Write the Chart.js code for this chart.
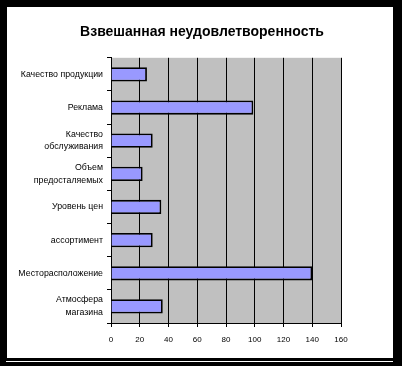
<!DOCTYPE html>
<html>
<head>
<meta charset="utf-8">
<script src="https://cdn.jsdelivr.net/npm/chart.js@4/dist/chart.umd.min.js"></script>
<style>
  html, body { margin: 0; padding: 0; background: #000; }
  body { width: 402px; height: 366px; position: relative; overflow: hidden; }
  #box { position: absolute; left: 7px; top: 7px; width: 386px; height: 351px; background: #fff; }
  #line { position: absolute; left: 6px; top: 361px; width: 387px; height: 1px; background: #fff; }
</style>
</head>
<body>
<div id="box"><canvas id="chart" width="386" height="351"></canvas></div>
<div id="line"></div>
<script>
// categories, top to bottom
const categories = [
  'Качество продукции',
  'Реклама',
  ['Качество', 'обслуживания'],
  ['Объем', 'предосталяемых'],
  'Уровень цен',
  'ассортимент',
  'Месторасположение',
  ['Атмосфера', 'магазина']
];
const values = [25, 99, 29, 22, 35, 29, 140, 36];
const xTicks = [0, 20, 40, 60, 80, 100, 120, 140, 160];

// gray plot background
const plotBg = {
  id: 'plotBg',
  beforeDraw(chart) {
    const { ctx, chartArea: a } = chart;
    ctx.save();
    ctx.fillStyle = '#c0c0c0';
    ctx.fillRect(a.left, a.top, a.right - a.left, a.bottom - a.top);
    ctx.restore();
  }
};

new Chart(document.getElementById('chart').getContext('2d'), {
  type: 'bar',
  data: {
    labels: categories,
    datasets: [{
      data: values,
      backgroundColor: '#9999ff',
      borderColor: '#000',
      borderWidth: 1.8,
      barPercentage: 0.43,
      categoryPercentage: 1
    }]
  },
  options: {
    indexAxis: 'y',
    responsive: false,
    animation: false,
    layout: { padding: { left: 4, right: 0, top: 17, bottom: 0 } },
    plugins: {
      legend: { display: false },
      tooltip: { enabled: false },
      title: {
        display: true,
        text: 'Взвешанная неудовлетворенность',
        color: '#000',
        font: { family: 'Liberation Sans', size: 14, weight: 'bold' },
        padding: { top: 0, bottom: 17 }
      }
    },
    scales: {
      x: {
        min: xTicks[0],
        max: xTicks[xTicks.length - 1],
        afterBuildTicks: s => { s.ticks = xTicks.map(v => ({ value: v })); },
        afterFit: s => { s.height = 35; },
        grid: { color: '#000', lineWidth: 1, tickLength: 4 },
        border: { color: '#000', width: 1 },
        ticks: { color: '#000', padding: 8, font: { family: 'Liberation Sans', size: 8 } }
      },
      y: {
        afterFit: s => { s.width = 100; },
        grid: { offset: true, drawOnChartArea: false, color: '#000', tickLength: 4 },
        border: { color: '#000', width: 1 },
        ticks: { color: '#000', padding: 4, font: { family: 'Liberation Sans', size: 8.8, lineHeight: 1.45 } }
      },
      // empty spacer on the right so the plot stops at 160 while the title stays centred
      spacer: {
        type: 'linear',
        axis: 'y',
        position: 'right',
        afterFit: s => { s.width = 52; },
        grid: { display: false },
        border: { display: false },
        ticks: { display: false }
      }
    }
  },
  plugins: [plotBg]
});
</script>
</body>
</html>
